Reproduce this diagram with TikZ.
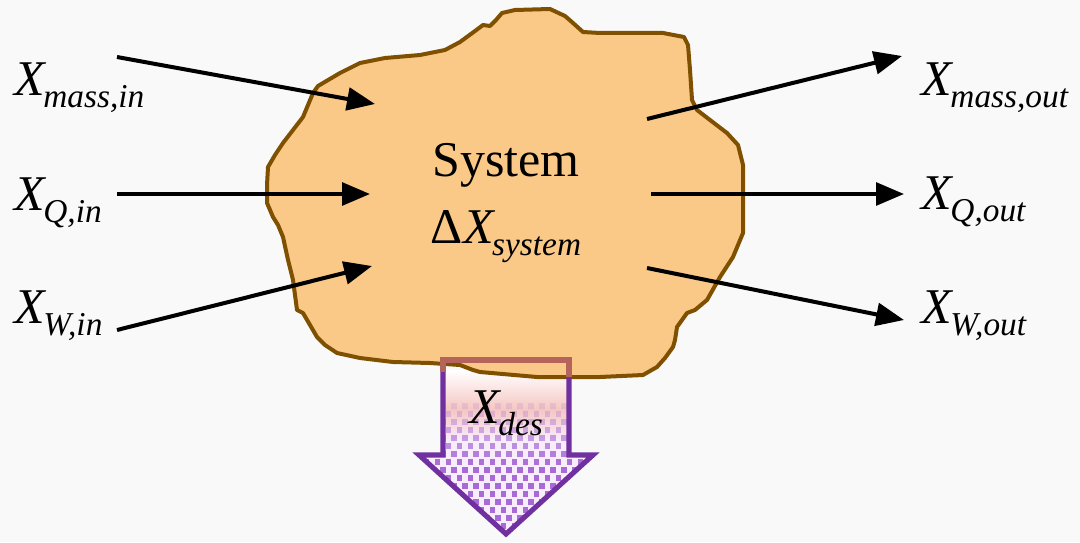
\documentclass[tikz,border=0pt]{standalone}
\usepackage{fontspec}
\setmainfont{Liberation Serif}
\usetikzlibrary{arrows.meta}
\definecolor{blobfill}{HTML}{FBC987}
\definecolor{blobline}{HTML}{7F5000}
\definecolor{arrpurple}{HTML}{7030A0}
\definecolor{arrtop}{HTML}{B4645A}
\definecolor{dotcol}{HTML}{A86AD6}
\definecolor{pinkfill}{HTML}{F5C6C2}
\definecolor{lavfill}{HTML}{F8EEFB}
\definecolor{bg}{HTML}{F9F9F9}
\newcommand{\subtxt}[1]{\kern-0.06em\raisebox{-0.24em}{\fontsize{25}{28}\selectfont\itshape #1}}
\newcommand{\bigX}{\textit{X}}
\begin{document}
\begin{tikzpicture}[x=0.75pt,y=-0.75pt,
  flow/.style={line width=3pt,-{Triangle[length=21pt,width=17pt]}},
  lbl/.style={inner sep=0pt,font=\fontsize{37.5}{40}\selectfont},
  blob/.style={fill=blobfill,draw=blobline,line width=3pt,line join=round},
  desline/.style={draw=arrpurple,line width=3.8pt,line join=miter}]
\fill[bg] (0,0) rectangle (1080,542);
\useasboundingbox (0,0) rectangle (1080,542);
% arrow fill
\begin{scope}
\clip (443,360) -- (569,360) -- (569,455) -- (593,455) -- (506,534) -- (419,455) -- (443,455) -- cycle;
\shade[top color=white,bottom color=pinkfill] (400,370) rectangle (610,410);
\shade[top color=pinkfill,bottom color=lavfill] (400,409) rectangle (610,440);
\fill[lavfill] (400,439) rectangle (610,545);
\foreach \r in {0,...,17}{
  \pgfmathsetmacro\yy{406+8*\r}
  \pgfmathsetmacro\op{min(1,0.18+\r*0.11)}
  \pgfmathsetmacro\xo{410+mod(\r,2)*5.5}
  \foreach \c in {0,...,17}{
    \fill[dotcol,opacity=\op] ({\xo+11*\c-2.7},{\yy-2.7}) rectangle ++(5.4,5.4);
  }
}
\end{scope}
% blob
\path[blob] (313,93) -- (318,86) -- (340,73) -- (360,63) -- (385,58) -- (420,55) -- (445,50) -- (460,42) -- (475,31) -- (483,25) -- (490,26) -- (496,20) -- (502,13) -- (515,10) -- (550,9) -- (565,16) -- (573,23) -- (583,32) -- (600,33) -- (663,33) -- (684,37) -- (688,45) -- (690,70) -- (692,100) -- (697,110) -- (710,120) -- (727,133) -- (738,145) -- (743,165) -- (743,200) -- (743,233) -- (738,245) -- (733,257) -- (720,277) -- (707,300) -- (695,310) -- (687,313) -- (677,327) -- (675,340) -- (673,347) -- (665,358) -- (657,367) -- (643,375) -- (600,377) -- (537,377) -- (480,372) -- (473,370) -- (460,365) -- (430,363) -- (393,362) -- (360,358) -- (337,353) -- (325,345) -- (317,337) -- (303,313) -- (297,310) -- (295,295) -- (293,280) -- (288,260) -- (283,237) -- (278,225) -- (273,217) -- (267,203) -- (267,185) -- (268,167) -- (275,155) -- (283,143) -- (293,130) -- (303,117) -- (308,105) -- cycle;
% arrow outline
\path[desline] (443,370) -- (443,455) -- (419,455) -- (506,534) -- (593,455) -- (569,455) -- (569,375);
\draw[arrtop,line width=3.8pt,line join=miter] (443,372) -- (443,360) -- (569,360) -- (569,377);
% texts
\node[lbl,anchor=base] (sys) at (506,176) {System};
\node[lbl,anchor=base] (dx) at (506,243) {Δ\bigX\subtxt{system}};
\node[lbl,anchor=base] (xdes) at (506,423) {\bigX\subtxt{des}};
\node[lbl,anchor=base west] (min) at (14,95) {\bigX\subtxt{mass,in}};
\node[lbl,anchor=base west] (qin) at (14,210) {\bigX\subtxt{Q,in}};
\node[lbl,anchor=base west] (win) at (14,323) {\bigX\subtxt{W,in}};
\node[lbl,anchor=base west] (mout) at (921,95) {\bigX\subtxt{mass,out}};
\node[lbl,anchor=base west] (qout) at (921,209) {\bigX\subtxt{Q,out}};
\node[lbl,anchor=base west] (wout) at (921,323) {\bigX\subtxt{W,out}};
% connector ends
\coordinate (a1s) at (117,57);  \coordinate (a1e) at (375,104);
\coordinate (a2s) at (117,194); \coordinate (a2e) at (370,194);
\coordinate (a3s) at (117,330); \coordinate (a3e) at (372,266);
\coordinate (b1s) at (647,119); \coordinate (b1e) at (902,56);
\coordinate (b2s) at (651,194); \coordinate (b2e) at (904,194);
\coordinate (b3s) at (647,268); \coordinate (b3e) at (904,320);
\draw[flow] (a1s) -- (a1e);
\draw[flow] (a2s) -- (a2e);
\draw[flow] (a3s) -- (a3e);
\draw[flow] (b1s) -- (b1e);
\draw[flow] (b2s) -- (b2e);
\draw[flow] (b3s) -- (b3e);
\end{tikzpicture}
\end{document}
